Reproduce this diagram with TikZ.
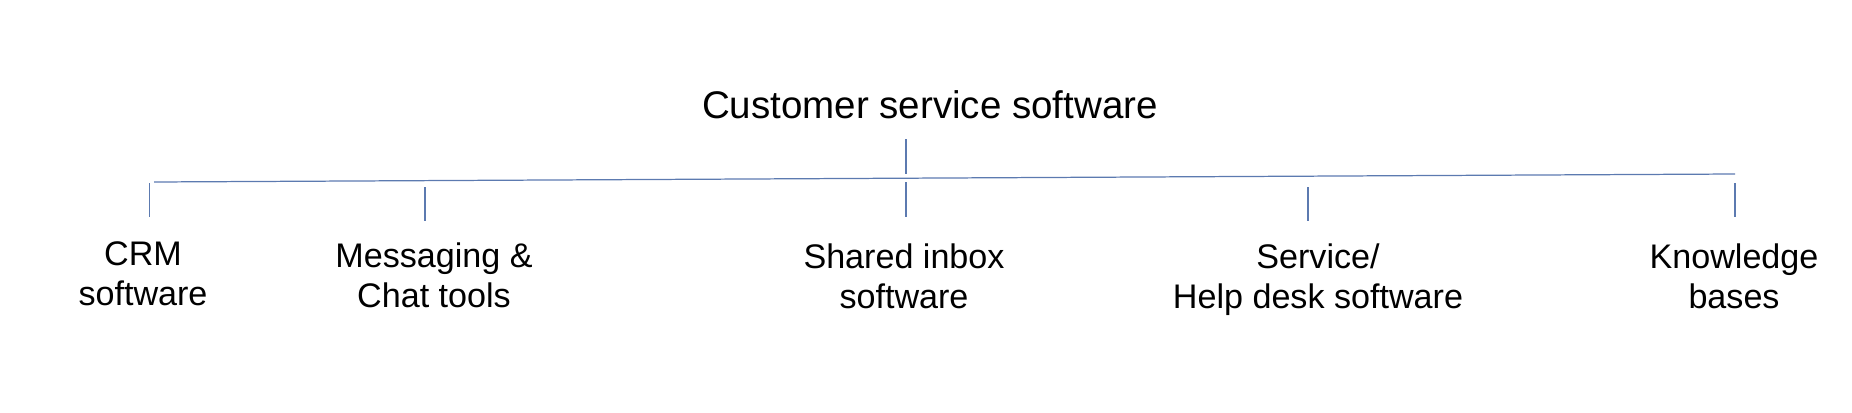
\documentclass[tikz,border=0pt]{standalone}
\usepackage{fontspec}
\setmainfont{Liberation Sans}
\definecolor{linkblue}{RGB}{92,122,176}
\begin{document}
\begin{tikzpicture}[
    x=0.01cm, y=-0.01cm,
    link/.style={draw=linkblue, line width=0.35pt},
    title/.style={font=\fontsize{10.95}{13}\selectfont, inner sep=0pt, anchor=base},
    leaf/.style={font=\fontsize{9.7}{11.1}\selectfont, align=center, inner sep=0pt, anchor=base}
  ]
  \useasboundingbox (0,0) rectangle (1852,412);

  % Wurzel
  \node[title] (root) at (930,118) {Customer service software};

  % Blaetter (base = Grundlinie der letzten Zeile)
  \node[leaf] (crm)   at (143,305)  {CRM\\software};
  \node[leaf] (chat)  at (434,307)  {Messaging \&\\Chat tools};
  \node[leaf] (inbox) at (904,308)  {Shared inbox\\software};
  \node[leaf] (desk)  at (1318,308) {Service/\\Help desk software};
  \node[leaf] (kb)    at (1734,308) {Knowledge\\bases};

  % Sammelschiene (leicht schraeg)
  \coordinate (busL) at (154,182);
  \coordinate (busR) at (1735,174);
  \draw[link] (busL) -- (busR);

  % Stich von der Wurzel
  \coordinate (rootA) at (906,139);
  \coordinate (rootB) at (906,174);
  \draw[link] (rootA) -- (rootB);

  % Stiche zu den Blaettern
  \coordinate (crmA) at (149.5,183);  \coordinate (crmB) at (149.5,217);
  \coordinate (chatA) at (425,187);   \coordinate (chatB) at (425,221);
  \coordinate (inboxA) at (906,182);  \coordinate (inboxB) at (906,217);
  \coordinate (deskA) at (1308,187);  \coordinate (deskB) at (1308,221);
  \coordinate (kbA) at (1735,183);    \coordinate (kbB) at (1735,217);
  \draw[link] (crmA) -- (crmB);
  \draw[link] (chatA) -- (chatB);
  \draw[link] (inboxA) -- (inboxB);
  \draw[link] (deskA) -- (deskB);
  \draw[link] (kbA) -- (kbB);
\end{tikzpicture}
\end{document}
